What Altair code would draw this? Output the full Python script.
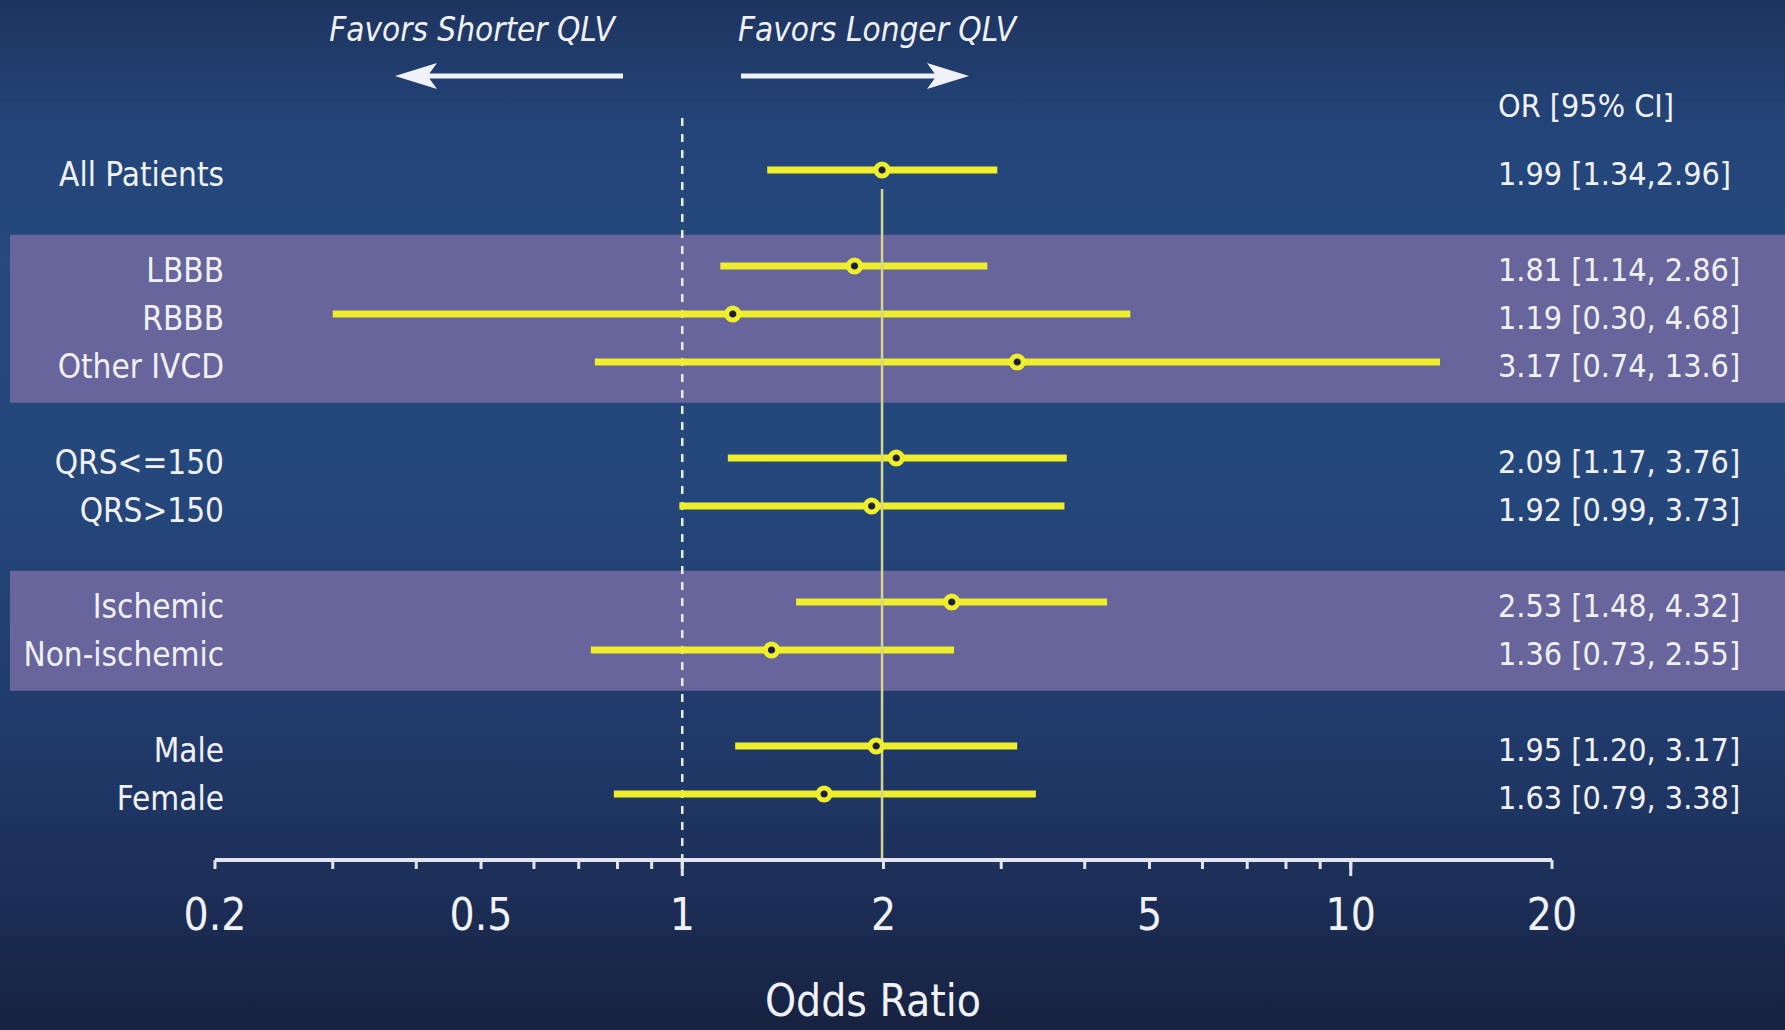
import altair as alt
import pandas as pd

# Subgroups, listed top to bottom; a blank row separates consecutive groups
groups = [
    ["All Patients"],
    ["LBBB", "RBBB", "Other IVCD"],
    ["QRS<=150", "QRS>150"],
    ["Ischemic", "Non-ischemic"],
    ["Male", "Female"],
]
odds_ratio = [1.99, 1.81, 1.19, 3.17, 2.09, 1.92, 2.53, 1.36, 1.95, 1.63]
ci_low = [1.34, 1.14, 0.30, 0.74, 1.17, 0.99, 1.48, 0.73, 1.20, 0.79]
ci_high = [2.96, 2.86, 4.68, 13.6, 3.76, 3.73, 4.32, 2.55, 3.17, 3.38]
ci_text = [
    "1.99 [1.34,2.96]",
    "1.81 [1.14, 2.86]",
    "1.19 [0.30, 4.68]",
    "3.17 [0.74, 13.6]",
    "2.09 [1.17, 3.76]",
    "1.92 [0.99, 3.73]",
    "2.53 [1.48, 4.32]",
    "1.36 [0.73, 2.55]",
    "1.95 [1.20, 3.17]",
    "1.63 [0.79, 3.38]",
]
shaded_groups = [1, 3]
tick_values = [0.2, 0.3, 0.4, 0.5, 0.6, 0.7, 0.8, 0.9, 1, 2, 3, 4, 5, 6, 7, 8, 9, 10, 20]
tick_labels = [0.2, 0.5, 1, 2, 5, 10, 20]
long_ticks = [1, 10]
null_value = 1
overall_value = odds_ratio[0]

FONT = "Liberation Sans Narrow, DejaVu Sans Condensed, Arial Narrow, sans-serif"
TEXT = "#f1f1f8"
YELLOW = "#eeee2b"
AXIS = "#e4e4f0"
W, H = 1785, 1030
AXIS_Y = 860  # vertical position of the odds-ratio axis line

# Build the row table: each subgroup gets an integer row slot
rows, spans, slot = [], [], 0
for names in groups:
    first = slot
    for name in names:
        rows.append({"label": name, "pos": slot})
        slot += 1
    spans.append((first, slot - 1))
    slot += 1
for i, r in enumerate(rows):
    r.update(OR=odds_ratio[i], lo=ci_low[i], hi=ci_high[i], text=ci_text[i])
df = pd.DataFrame(rows)

bands = pd.DataFrame(
    [{"top": spans[g][0] - 0.65, "bottom": spans[g][1] + 0.85} for g in shaded_groups]
)

x_scale = alt.Scale(type="log", domain=[tick_values[0], tick_values[-1]], range=[215, 1552])
y_scale = alt.Scale(domain=[0, int(df["pos"].max())], range=[170, 794], zero=False, nice=False)


def xq(field):
    return alt.X(field, type="quantitative", scale=x_scale, axis=None)


def yq(field):
    return alt.Y(field, type="quantitative", scale=y_scale, axis=None)


one = pd.DataFrame({"k": [0]})

background = alt.Chart(one).mark_rect(
    color=alt.Gradient(
        gradient="linear",
        x1=0, x2=0, y1=0, y2=1,
        stops=[
            alt.GradientStop(offset=0.0, color="#1e345f"),
            alt.GradientStop(offset=0.12, color="#234478"),
            alt.GradientStop(offset=0.25, color="#264a7e"),
            alt.GradientStop(offset=0.45, color="#25487c"),
            alt.GradientStop(offset=0.62, color="#223f72"),
            alt.GradientStop(offset=0.76, color="#1f3765"),
            alt.GradientStop(offset=0.86, color="#1c2f58"),
            alt.GradientStop(offset=1.0, color="#172240"),
        ],
    )
).encode(x=alt.value(0), x2=alt.value(W), y=alt.value(0), y2=alt.value(H))

band_layer = alt.Chart(bands).mark_rect(color="#67659b").encode(
    x=alt.value(10), x2=alt.value(W), y=yq("top"), y2="bottom:Q"
)

# Odds-ratio axis: line, ticks, labels and title, all placed through the x scale
axis_df = pd.DataFrame({"lo": [tick_values[0]], "hi": [tick_values[-1]]})
axis_line = alt.Chart(axis_df).mark_rule(color=AXIS, strokeWidth=4).encode(
    x=xq("lo"), x2="hi:Q", y=alt.value(AXIS_Y)
)
ticks = alt.Chart(pd.DataFrame({"v": tick_values})).mark_rule(color=AXIS, strokeWidth=3).encode(
    x=xq("v"), y=alt.value(AXIS_Y), y2=alt.value(AXIS_Y + 9)
)
long_tick_layer = alt.Chart(pd.DataFrame({"v": long_ticks})).mark_rule(
    color=AXIS, strokeWidth=3
).encode(x=xq("v"), y=alt.value(AXIS_Y), y2=alt.value(AXIS_Y + 16))
tick_text = alt.Chart(pd.DataFrame({"v": tick_labels})).mark_text(
    align="center", baseline="middle", font=FONT, fontSize=44, color=TEXT
).encode(x=xq("v"), y=alt.value(AXIS_Y + 57), text=alt.Text("v:Q", format=".1~f"))
axis_title = alt.Chart(one).mark_text(
    align="center", baseline="middle", font=FONT, fontSize=44, color=TEXT, text="Odds Ratio"
).encode(x=alt.value(873), y=alt.value(1003))

null_line = alt.Chart(pd.DataFrame({"v": [null_value]})).mark_rule(
    color="#ececf4", strokeWidth=2.5, strokeDash=[8, 8]
).encode(x=xq("v"), y=alt.value(118), y2=alt.value(AXIS_Y))

ci_layer = alt.Chart(df).mark_rule(color=YELLOW, strokeWidth=7, strokeCap="butt").encode(
    x=xq("lo"), x2="hi:Q", y=yq("pos")
)

overall_line = alt.Chart(pd.DataFrame({"v": [overall_value]})).mark_rule(
    color="#d4d48c", strokeWidth=2.5
).encode(x=xq("v"), y=alt.value(189), y2=alt.value(AXIS_Y))

points = alt.Chart(df).mark_circle(
    size=150, fill="#1c1c3e", stroke=YELLOW, strokeWidth=5, opacity=1
).encode(x=xq("OR"), y=yq("pos"))

row_labels = alt.Chart(df).mark_text(
    align="right", baseline="middle", dy=6, font=FONT, fontSize=33, color=TEXT
).encode(x=alt.value(224), y=yq("pos"), text="label:N")

ci_labels = alt.Chart(df).mark_text(
    align="left", baseline="middle", dy=5, font=FONT, fontSize=32, color=TEXT
).encode(x=alt.value(1498), y=yq("pos"), text="text:N")

header = alt.Chart(one).mark_text(
    align="left", baseline="middle", dy=5, font=FONT, fontSize=32, color=TEXT, text="OR [95% CI]"
).encode(x=alt.value(1498), y=alt.value(102))

favor_short = alt.Chart(one).mark_text(
    align="center", baseline="middle", font=FONT, fontSize=33, fontStyle="italic",
    color=TEXT, text="Favors Shorter QLV"
).encode(x=alt.value(472), y=alt.value(31))

favor_long = alt.Chart(one).mark_text(
    align="center", baseline="middle", font=FONT, fontSize=33, fontStyle="italic",
    color=TEXT, text="Favors Longer QLV"
).encode(x=alt.value(877), y=alt.value(31))

shaft_left = alt.Chart(one).mark_rule(color=TEXT, strokeWidth=5).encode(
    x=alt.value(420), x2=alt.value(623), y=alt.value(76)
)
shaft_right = alt.Chart(one).mark_rule(color=TEXT, strokeWidth=5).encode(
    x=alt.value(741), x2=alt.value(944), y=alt.value(76)
)
head_left = alt.Chart(one).mark_point(
    shape="M -1 0 L 1 -0.62 L 0.55 0 L 1 0.62 Z", size=1764, filled=True,
    color=TEXT, opacity=1
).encode(x=alt.value(416), y=alt.value(76))
head_right = alt.Chart(one).mark_point(
    shape="M 1 0 L -1 -0.62 L -0.55 0 L -1 0.62 Z", size=1764, filled=True,
    color=TEXT, opacity=1
).encode(x=alt.value(948), y=alt.value(76))

chart = alt.layer(
    background,
    band_layer,
    null_line,
    ci_layer,
    overall_line,
    axis_line,
    ticks,
    long_tick_layer,
    tick_text,
    axis_title,
    points,
    row_labels,
    ci_labels,
    header,
    favor_short,
    favor_long,
    shaft_left,
    shaft_right,
    head_left,
    head_right,
).properties(
    width=W,
    height=H,
    padding=0,
    autosize=alt.AutoSizeParams(type="none"),
    background="#172240",
).configure_view(stroke=None)

chart.save("out.html", embed_options={"renderer": "svg", "actions": False})
